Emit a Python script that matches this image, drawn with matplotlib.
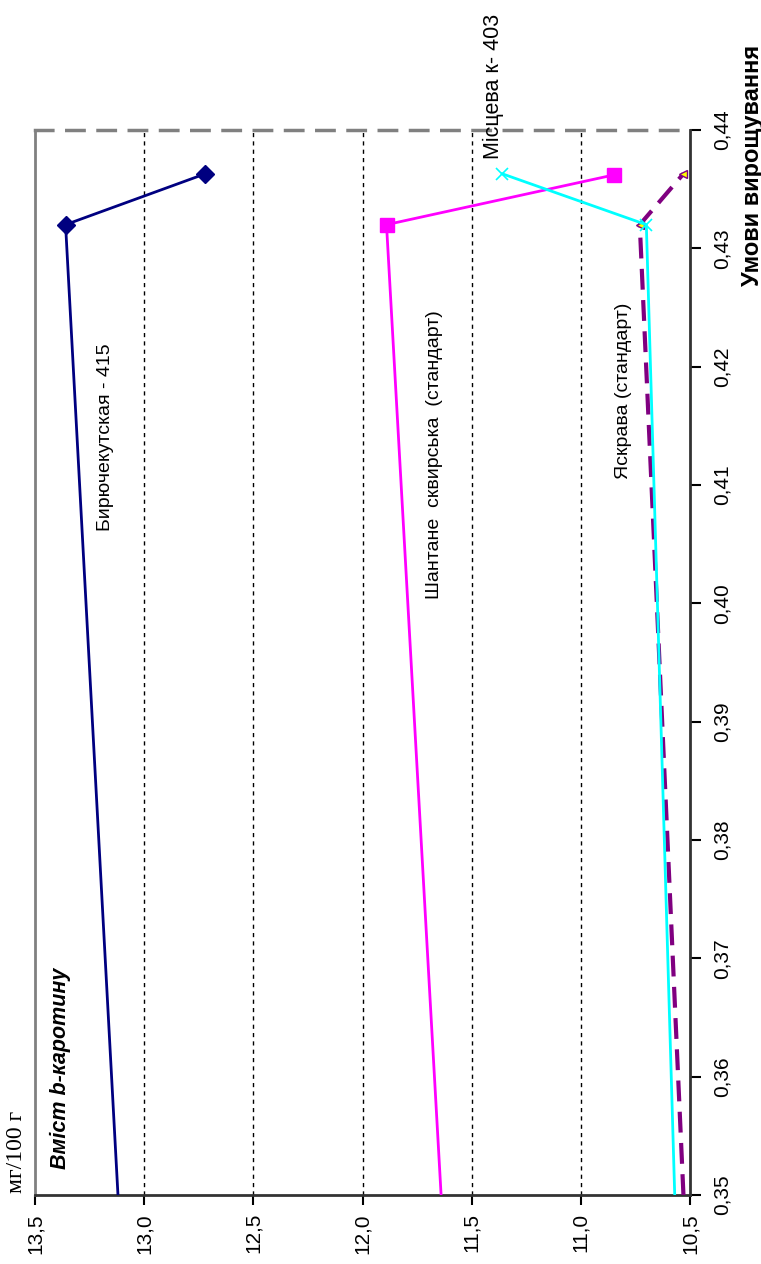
import matplotlib
matplotlib.use("Agg")
import matplotlib.pyplot as plt

plt.rcParams['font.family'] = ['Liberation Sans', 'DejaVu Sans']

# carotene content (mg/100 g) against growing conditions
x_biry = [0.350, 0.432, 0.4363]
v_biry = [13.12, 13.36, 12.72]

x_shan = [0.350, 0.432, 0.4362]
v_shan = [11.64, 11.89, 10.85]

x_mist = [0.350, 0.432, 0.4363]
v_mist = [10.57, 10.70, 11.36]

x_yask = [0.350, 0.432, 0.4363]
v_yask = [10.53, 10.73, 10.53]

val_ticks = [13.5, 13.0, 12.5, 12.0, 11.5, 11.0, 10.5]
val_labels = ['13,5', '13,0', '12,5', '12,0', '11,5', '11,0', '10,5']
cond_ticks = [0.35, 0.36, 0.37, 0.38, 0.39, 0.40, 0.41, 0.42, 0.43, 0.44]
cond_labels = ['0,35', '0,36', '0,37', '0,38', '0,39', '0,40', '0,41', '0,42', '0,43', '0,44']

W, H = 761, 1264
fig = plt.figure(figsize=(W / 100, H / 100), dpi=100)
ax = fig.add_axes([35 / W, 1 - 1195 / H, (690 - 35) / W, (1195 - 130) / H])

# chart is drawn turned on its side: values run along the bottom
ax.set_xlim(13.5, 10.5)
ax.set_ylim(0.35, 0.44)

for g in val_ticks[1:-1]:
    ax.axvline(g, color='black', lw=1, ls=(0, (3, 3)), zorder=1)

ax.plot(v_biry, x_biry, color='#000080', lw=2, marker='D', ms=9,
        markevery=[1, 2], zorder=3)
ax.plot(v_shan, x_shan, color='#FF00FF', lw=2, marker='s', ms=9.5,
        markevery=[1, 2], zorder=3)
ax.plot(v_yask, x_yask, color='#800080', lw=3, ls=(0, (5, 2.5)), marker='<',
        ms=6, mfc='#FFFF00', mec='#800080', mew=1, markevery=[1, 2], zorder=3)
ax.plot(v_mist, x_mist, color='#00FFFF', lw=2, marker='x', ms=9, mew=1.2,
        markevery=[1, 2], zorder=4)

ax.set_xticks(val_ticks)
ax.set_xticklabels(val_labels, rotation=90, fontsize=15)
ax.yaxis.tick_right()
ax.set_yticks(cond_ticks)
ax.set_yticklabels(cond_labels, rotation=90, va='center', fontsize=15)
ax.tick_params(axis='x', length=7, width=1.5, pad=6)
ax.tick_params(axis='y', length=8, width=1.5, pad=8)

ax.spines['bottom'].set_color('#333333')
ax.spines['bottom'].set_linewidth(2)
ax.spines['right'].set_color('#333333')
ax.spines['right'].set_linewidth(2)
ax.spines['left'].set_color('#808080')
ax.spines['left'].set_linewidth(2)
ax.spines['top'].set_color('#808080')
ax.spines['top'].set_linewidth(2.5)
ax.spines['top'].set_linestyle((0, (5, 4)))

def label(px, py, s, **kw):
    fig.text(px / W, 1 - py / H, s, rotation=90, ha='center', va='center', **kw)

label(106, 437, 'Бирючекутская - 415', fontsize=14)
label(434, 455, 'Шантане  сквирська  (стандарт)', fontsize=14)
label(624, 391, 'Яскрава (стандарт)', fontsize=14)
label(493, 86, 'Місцева к- 403', fontsize=15.5)
label(60, 1068, 'Вміст b-каротину', fontsize=15.5, fontweight='bold', fontstyle='italic')
label(16, 1152, 'мг/100 г', fontsize=17, family=['Liberation Serif'])
label(752, 165, 'Умови вирощування', fontsize=17, fontweight='bold')

fig.savefig('out.png', dpi=100)
